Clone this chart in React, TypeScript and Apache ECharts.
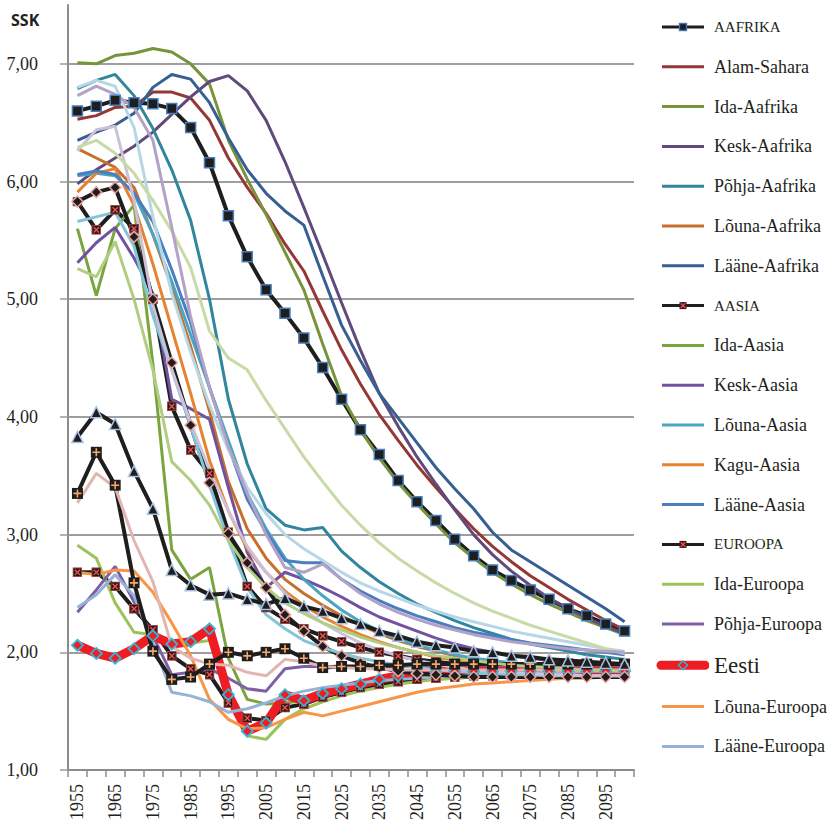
import React, { useEffect, useRef } from 'react';
import * as echarts from 'echarts';

// Five-year steps, 1955–2100
const years = [
  '1955', '1960', '1965', '1970', '1975', '1980', '1985', '1990', '1995', '2000',
  '2005', '2010', '2015', '2020', '2025', '2030', '2035', '2040', '2045', '2050',
  '2055', '2060', '2065', '2070', '2075', '2080', '2085', '2090', '2095', '2100',
];

// Total fertility rate (SSK) by region
const aafrika = [6.60, 6.64, 6.69, 6.67, 6.66, 6.62, 6.46, 6.16, 5.71, 5.36, 5.08, 4.88, 4.67, 4.42, 4.15, 3.89, 3.68, 3.46, 3.28, 3.12, 2.96, 2.82, 2.70, 2.61, 2.53, 2.45, 2.37, 2.31, 2.24, 2.18];
const alamSahara = [6.53, 6.56, 6.63, 6.64, 6.76, 6.76, 6.71, 6.52, 6.20, 5.95, 5.73, 5.47, 5.24, 4.90, 4.57, 4.28, 4.02, 3.80, 3.59, 3.40, 3.22, 3.05, 2.90, 2.77, 2.65, 2.55, 2.45, 2.36, 2.27, 2.19];
const idaAafrika = [7.01, 7.00, 7.07, 7.09, 7.13, 7.10, 7.00, 6.83, 6.35, 6.02, 5.72, 5.40, 5.08, 4.62, 4.18, 3.89, 3.65, 3.44, 3.26, 3.09, 2.93, 2.80, 2.68, 2.58, 2.49, 2.41, 2.34, 2.27, 2.21, 2.15];
const keskAafrika = [5.98, 6.10, 6.20, 6.30, 6.42, 6.57, 6.72, 6.85, 6.90, 6.77, 6.52, 6.17, 5.78, 5.38, 4.97, 4.57, 4.20, 3.92, 3.66, 3.43, 3.21, 3.00, 2.83, 2.69, 2.57, 2.46, 2.37, 2.29, 2.22, 2.16];
const pohjaAafrika = [6.79, 6.86, 6.91, 6.73, 6.45, 6.10, 5.67, 5.00, 4.15, 3.60, 3.22, 3.08, 3.04, 3.06, 2.86, 2.72, 2.60, 2.50, 2.41, 2.34, 2.27, 2.21, 2.16, 2.11, 2.07, 2.04, 2.01, 1.98, 1.96, 1.94];
const lounaAafrika = [6.28, 6.20, 6.12, 5.95, 5.55, 5.10, 4.60, 4.05, 3.45, 3.05, 2.80, 2.62, 2.50, 2.40, 2.31, 2.23, 2.16, 2.10, 2.05, 2.01, 1.97, 1.94, 1.92, 1.90, 1.88, 1.87, 1.86, 1.85, 1.84, 1.84];
const laaneAafrika = [6.35, 6.42, 6.48, 6.58, 6.80, 6.91, 6.87, 6.67, 6.37, 6.10, 5.90, 5.75, 5.63, 5.20, 4.78, 4.48, 4.20, 3.99, 3.78, 3.57, 3.39, 3.22, 3.02, 2.87, 2.77, 2.67, 2.57, 2.47, 2.37, 2.26];

const aasia = [5.83, 5.59, 5.76, 5.60, 5.00, 4.09, 3.72, 3.52, 3.02, 2.56, 2.38, 2.28, 2.20, 2.14, 2.09, 2.04, 2.00, 1.97, 1.94, 1.92, 1.90, 1.88, 1.87, 1.86, 1.85, 1.84, 1.83, 1.83, 1.82, 1.82];
const idaAasia = [5.60, 5.03, 5.60, 5.80, 4.45, 2.87, 2.62, 2.72, 1.95, 1.60, 1.56, 1.57, 1.59, 1.62, 1.66, 1.69, 1.72, 1.74, 1.76, 1.77, 1.78, 1.79, 1.80, 1.80, 1.81, 1.81, 1.81, 1.82, 1.82, 1.82];
const keskAasia = [5.31, 5.48, 5.61, 5.35, 5.05, 4.15, 4.07, 3.98, 3.40, 2.85, 2.55, 2.68, 2.62, 2.55, 2.47, 2.38, 2.30, 2.24, 2.18, 2.12, 2.07, 2.03, 2.00, 1.97, 1.95, 1.93, 1.91, 1.90, 1.89, 1.88];
const lounaAasia = [6.05, 6.07, 6.05, 5.90, 5.55, 5.15, 4.70, 4.25, 3.80, 3.35, 3.05, 2.80, 2.62, 2.48, 2.36, 2.26, 2.18, 2.11, 2.06, 2.02, 1.98, 1.95, 1.93, 1.91, 1.89, 1.88, 1.87, 1.86, 1.85, 1.85];
const kaguAasia = [5.91, 6.07, 6.11, 5.80, 5.30, 4.75, 4.20, 3.63, 3.20, 2.88, 2.68, 2.52, 2.40, 2.30, 2.22, 2.15, 2.09, 2.04, 2.00, 1.96, 1.93, 1.91, 1.89, 1.87, 1.86, 1.85, 1.84, 1.83, 1.83, 1.82];
const laaneAasia = [6.06, 6.09, 6.06, 5.90, 5.66, 5.25, 4.80, 4.25, 3.75, 3.30, 3.02, 2.78, 2.76, 2.76, 2.62, 2.52, 2.44, 2.37, 2.31, 2.26, 2.21, 2.17, 2.14, 2.11, 2.08, 2.06, 2.04, 2.02, 2.00, 1.98];

const euroopa = [2.68, 2.68, 2.56, 2.37, 2.19, 1.97, 1.86, 1.81, 1.57, 1.44, 1.42, 1.53, 1.56, 1.62, 1.66, 1.70, 1.73, 1.75, 1.77, 1.78, 1.79, 1.80, 1.80, 1.81, 1.81, 1.82, 1.82, 1.82, 1.83, 1.83];
const idaEuroopa = [2.91, 2.80, 2.42, 2.17, 2.15, 2.08, 2.08, 2.10, 1.65, 1.29, 1.26, 1.43, 1.52, 1.58, 1.63, 1.67, 1.70, 1.73, 1.75, 1.77, 1.78, 1.79, 1.80, 1.81, 1.81, 1.82, 1.82, 1.83, 1.83, 1.83];
const pohjaEuroopa = [2.34, 2.53, 2.73, 2.43, 2.14, 1.81, 1.83, 1.86, 1.78, 1.69, 1.67, 1.86, 1.88, 1.88, 1.88, 1.88, 1.88, 1.88, 1.88, 1.88, 1.88, 1.88, 1.88, 1.88, 1.88, 1.88, 1.88, 1.88, 1.88, 1.88];
const eesti = [2.06, 1.99, 1.95, 2.03, 2.14, 2.07, 2.09, 2.20, 1.64, 1.33, 1.40, 1.64, 1.59, 1.65, 1.69, 1.73, 1.77, 1.80, 1.82, 1.83, 1.84, 1.84, 1.84, 1.84, 1.84, 1.84, 1.84, 1.84, 1.84, 1.84];
const lounaEuroopa = [2.68, 2.66, 2.70, 2.69, 2.51, 2.25, 1.97, 1.60, 1.43, 1.35, 1.36, 1.43, 1.49, 1.46, 1.50, 1.54, 1.58, 1.62, 1.66, 1.69, 1.71, 1.73, 1.74, 1.75, 1.76, 1.77, 1.78, 1.78, 1.79, 1.79];
const laaneEuroopa = [2.38, 2.49, 2.66, 2.48, 2.08, 1.66, 1.63, 1.58, 1.49, 1.52, 1.57, 1.63, 1.67, 1.70, 1.72, 1.74, 1.76, 1.77, 1.78, 1.79, 1.80, 1.81, 1.81, 1.82, 1.82, 1.83, 1.83, 1.84, 1.84, 1.84];

const ladinaAmeerika = [5.83, 5.91, 5.95, 5.53, 5.00, 4.46, 3.93, 3.44, 3.01, 2.76, 2.55, 2.32, 2.18, 2.05, 1.97, 1.91, 1.87, 1.84, 1.82, 1.81, 1.80, 1.79, 1.79, 1.79, 1.79, 1.79, 1.79, 1.79, 1.79, 1.79];
const kariibi = [5.66, 5.70, 5.74, 5.45, 4.86, 4.40, 3.92, 3.42, 2.95, 2.55, 2.32, 2.20, 2.10, 2.04, 1.99, 1.95, 1.92, 1.89, 1.87, 1.85, 1.84, 1.83, 1.82, 1.81, 1.81, 1.80, 1.80, 1.80, 1.80, 1.80];
const keskAmeerika = [6.80, 6.86, 6.81, 6.46, 5.70, 5.05, 4.55, 4.10, 3.72, 3.40, 3.18, 3.00, 2.88, 2.78, 2.68, 2.59, 2.52, 2.46, 2.40, 2.35, 2.30, 2.26, 2.22, 2.18, 2.15, 2.12, 2.09, 2.06, 2.03, 2.01];
const lounaAmeerika = [6.26, 6.44, 6.47, 5.84, 4.95, 4.40, 3.95, 3.55, 3.20, 2.90, 2.68, 2.50, 2.36, 2.25, 2.16, 2.08, 2.02, 1.97, 1.93, 1.90, 1.87, 1.85, 1.84, 1.83, 1.82, 1.81, 1.81, 1.80, 1.80, 1.80];
const pohjaAmeerika = [3.35, 3.70, 3.42, 2.59, 2.01, 1.77, 1.79, 1.90, 2.00, 1.97, 2.00, 2.03, 1.95, 1.87, 1.88, 1.88, 1.89, 1.89, 1.90, 1.90, 1.90, 1.90, 1.90, 1.90, 1.90, 1.90, 1.90, 1.90, 1.90, 1.90];
const okeaania = [3.83, 4.04, 3.94, 3.54, 3.22, 2.70, 2.57, 2.49, 2.50, 2.45, 2.41, 2.46, 2.39, 2.35, 2.29, 2.24, 2.18, 2.14, 2.09, 2.06, 2.04, 2.01, 2.00, 1.97, 1.96, 1.94, 1.93, 1.92, 1.91, 1.90];
const austraaliaUusMeremaa = [3.27, 3.52, 3.40, 2.95, 2.60, 2.05, 1.95, 1.90, 1.89, 1.83, 1.80, 1.94, 1.92, 1.88, 1.87, 1.86, 1.86, 1.85, 1.85, 1.85, 1.85, 1.85, 1.85, 1.85, 1.85, 1.85, 1.85, 1.85, 1.85, 1.85];
const melaneesia = [6.29, 6.35, 6.24, 6.07, 5.84, 5.58, 5.27, 4.73, 4.50, 4.40, 4.14, 3.90, 3.66, 3.45, 3.25, 3.08, 2.93, 2.80, 2.69, 2.59, 2.50, 2.42, 2.35, 2.29, 2.23, 2.18, 2.13, 2.08, 2.03, 1.99];
const mikroneesia = [5.26, 5.19, 5.49, 5.00, 4.40, 3.62, 3.46, 3.25, 2.95, 2.72, 2.55, 2.42, 2.33, 2.25, 2.19, 2.13, 2.08, 2.04, 2.00, 1.97, 1.95, 1.93, 1.91, 1.89, 1.88, 1.87, 1.86, 1.85, 1.85, 1.84];
const polyneesia = [6.73, 6.81, 6.74, 6.63, 6.35, 5.61, 4.85, 4.25, 3.75, 3.35, 3.00, 2.72, 2.68, 2.75, 2.62, 2.50, 2.41, 2.34, 2.28, 2.23, 2.19, 2.15, 2.12, 2.09, 2.07, 2.05, 2.03, 2.02, 2.01, 2.00];

const SERIF = 'Liberation Serif';
const TEXT = '#231f20';
const BLACK = '#1e1e1e';

const svgUri = (w: number, h: number, body: string) =>
  'image://data:image/svg+xml;charset=utf-8,' +
  encodeURIComponent(
    `<svg xmlns="http://www.w3.org/2000/svg" width="${w}" height="${h}" viewBox="0 0 ${w} ${h}">${body}</svg>`
  );

// Marker glyphs
const crossSquare = svgUri(10, 10,
  `<rect x="0.6" y="0.6" width="8.8" height="8.8" fill="${BLACK}" stroke="#a94442" stroke-width="1.1"/>` +
  `<path d="M2.4 2.4 L7.6 7.6 M7.6 2.4 L2.4 7.6" stroke="#ff4a4a" stroke-width="1.4"/>`);
const plusSquare = svgUri(12, 12,
  `<rect x="0.5" y="0.5" width="11" height="11" fill="${BLACK}"/>` +
  `<path d="M6 2 V10 M2 6 H10" stroke="#f9a867" stroke-width="1.6"/>`);

// Legend glyphs (54 x 14 box, line runs from x=7 to x=49)
const legendLine = (color: string) =>
  svgUri(54, 14, `<line x1="7" y1="7" x2="49" y2="7" stroke="${color}" stroke-width="3"/>`);
const legendSquare = svgUri(54, 14,
  `<line x1="7" y1="7" x2="49" y2="7" stroke="${BLACK}" stroke-width="3"/>` +
  `<rect x="24.5" y="3.5" width="7" height="7" fill="${BLACK}" stroke="#3f74b5" stroke-width="1.4"/>`);
const legendCross = svgUri(54, 14,
  `<line x1="7" y1="7" x2="49" y2="7" stroke="${BLACK}" stroke-width="3"/>` +
  `<rect x="24.5" y="3.5" width="7" height="7" fill="#3a1c1c"/>` +
  `<path d="M25.8 4.8 L30.2 9.2 M30.2 4.8 L25.8 9.2" stroke="#ff4a4a" stroke-width="1.3"/>`);
const legendEesti = svgUri(54, 14,
  `<line x1="6" y1="7" x2="50" y2="7" stroke="#ee1d23" stroke-width="9" stroke-linecap="round"/>` +
  `<path d="M28 2.5 L32.5 7 L28 11.5 L23.5 7 Z" fill="#ee1d23" stroke="#35b5d8" stroke-width="1.4"/>`);

type Plain = { name: string; data: number[]; color: string };

const plain = (p: Plain) => ({
  name: p.name,
  type: 'line',
  data: p.data,
  symbol: 'none',
  lineStyle: { color: p.color, width: 3 },
  itemStyle: { color: p.color },
  emphasis: { disabled: true },
});

const marked = (name: string, data: number[], symbol: string, size: number, fill: string, border: string) => ({
  name,
  type: 'line',
  data,
  symbol,
  symbolSize: size,
  showAllSymbol: true,
  lineStyle: { color: BLACK, width: 4 },
  itemStyle: { color: fill, borderColor: border, borderWidth: 1.5 },
  emphasis: { disabled: true },
});

const buildOption = () => {
  const series: any[] = [
    marked('AAFRIKA', aafrika, 'rect', 10, BLACK, '#4a7ebb'),
    plain({ name: 'Alam-Sahara', data: alamSahara, color: '#953735' }),
    plain({ name: 'Ida-Aafrika', data: idaAafrika, color: '#77933c' }),
    plain({ name: 'Kesk-Aafrika', data: keskAafrika, color: '#604a7b' }),
    plain({ name: 'Põhja-Aafrika', data: pohjaAafrika, color: '#31859c' }),
    plain({ name: 'Lõuna-Aafrika', data: lounaAafrika, color: '#c76f2c' }),
    plain({ name: 'Lääne-Aafrika', data: laaneAafrika, color: '#376092' }),
    marked('AASIA', aasia, crossSquare, 10, BLACK, BLACK),
    plain({ name: 'Ida-Aasia', data: idaAasia, color: '#7aa53e' }),
    plain({ name: 'Kesk-Aasia', data: keskAasia, color: '#7052a0' }),
    plain({ name: 'Lõuna-Aasia', data: lounaAasia, color: '#4aa6c0' }),
    plain({ name: 'Kagu-Aasia', data: kaguAasia, color: '#e5832f' }),
    plain({ name: 'Lääne-Aasia', data: laaneAasia, color: '#4a7ec0' }),
    marked('EUROOPA', euroopa, crossSquare, 10, BLACK, BLACK),
    plain({ name: 'Ida-Euroopa', data: idaEuroopa, color: '#9bc35a' }),
    plain({ name: 'Põhja-Euroopa', data: pohjaEuroopa, color: '#7c5fa6' }),
    {
      name: 'Eesti',
      type: 'line',
      data: eesti,
      symbol: 'diamond',
      symbolSize: 11,
      showAllSymbol: true,
      lineStyle: { color: '#ee1d23', width: 9 },
      itemStyle: { color: '#ee1d23', borderColor: '#35b5d8', borderWidth: 1.8 },
      emphasis: { disabled: true },
    },
    plain({ name: 'Lõuna-Euroopa', data: lounaEuroopa, color: '#f79646' }),
    plain({ name: 'Lääne-Euroopa', data: laaneEuroopa, color: '#95b3d7' }),
    marked('LADINA-AMEERIKA', ladinaAmeerika, 'diamond', 11, BLACK, '#e8a3a1'),
    plain({ name: 'Kariibi', data: kariibi, color: '#82c5d8' }),
    plain({ name: 'Kesk-Ameerika', data: keskAmeerika, color: '#b6d8e6' }),
    plain({ name: 'Lõuna-Ameerika', data: lounaAmeerika, color: '#ccc1da' }),
    marked('PÕHJA-AMEERIKA', pohjaAmeerika, plusSquare, 12, BLACK, BLACK),
    marked('OKEAANIA', okeaania, 'triangle', 11, BLACK, '#a9c1e0'),
    plain({ name: 'Austraalia/Uus-Meremaa', data: austraaliaUusMeremaa, color: '#e1b5b1' }),
    plain({ name: 'Melaneesia', data: melaneesia, color: '#c8dba6' }),
    plain({ name: 'Mikroneesia', data: mikroneesia, color: '#b1cd82' }),
    plain({ name: 'Polüneesia', data: polyneesia, color: '#b3a2c7' }),
  ];

  const colorOf = (name: string) => series.find((s) => s.name === name).lineStyle.color;
  const caps = { fontFamily: SERIF, fontSize: 15, lineHeight: 20 };
  const normal = { fontFamily: SERIF, fontSize: 18, lineHeight: 20 };

  const legendItem = (name: string) => {
    if (name === 'AAFRIKA') return { name, icon: legendSquare, textStyle: caps };
    if (name === 'AASIA' || name === 'EUROOPA') return { name, icon: legendCross, textStyle: caps };
    if (name === 'Eesti') return { name, icon: legendEesti, textStyle: { fontFamily: SERIF, fontSize: 23, lineHeight: 20 } };
    return { name, icon: legendLine(colorOf(name)), textStyle: normal };
  };

  const legendNames = [
    'AAFRIKA', 'Alam-Sahara', 'Ida-Aafrika', 'Kesk-Aafrika', 'Põhja-Aafrika', 'Lõuna-Aafrika', 'Lääne-Aafrika',
    'AASIA', 'Ida-Aasia', 'Kesk-Aasia', 'Lõuna-Aasia', 'Kagu-Aasia', 'Lääne-Aasia',
    'EUROOPA', 'Ida-Euroopa', 'Põhja-Euroopa', 'Eesti', 'Lõuna-Euroopa', 'Lääne-Euroopa',
  ];

  return {
    animation: false,
    backgroundColor: '#ffffff',
    textStyle: { fontFamily: SERIF },
    grid: { left: 68, right: 194, top: 5, bottom: 59 },
    legend: {
      orient: 'vertical',
      left: 650,
      top: 12,
      itemWidth: 54,
      itemHeight: 14,
      itemGap: 19.8,
      selectedMode: false,
      textStyle: { fontFamily: SERIF, color: TEXT, fontSize: 18, lineHeight: 20 },
      data: legendNames.map(legendItem),
    },
    graphic: [
      {
        type: 'text',
        left: 11,
        top: 12,
        style: { text: 'SSK', fontFamily: 'Open Sans', fontWeight: 'bold', fontSize: 16, fill: TEXT },
      },
    ],
    xAxis: {
      type: 'category',
      data: years,
      boundaryGap: true,
      axisLine: { lineStyle: { color: '#8c8c8c', width: 2 } },
      axisTick: { show: true, interval: 0, length: 7, lineStyle: { color: '#8c8c8c', width: 1.5 } },
      axisLabel: { interval: 1, rotate: 90, margin: 14, fontFamily: SERIF, fontSize: 18, color: TEXT },
      splitLine: { show: false },
    },
    yAxis: {
      type: 'value',
      min: 1,
      max: 7.5,
      interval: 1,
      axisLine: { show: true, lineStyle: { color: '#8c8c8c', width: 2 } },
      axisTick: { show: true, length: 8, lineStyle: { color: '#9a9a9a', width: 1.5 } },
      splitLine: { show: true, showMaxLine: false, showMinLine: false, lineStyle: { color: '#9e9e9e', width: 2 } },
      axisLabel: {
        showMaxLabel: false,
        margin: 30,
        fontFamily: SERIF,
        fontSize: 18,
        color: TEXT,
        formatter: (v: number) => v.toFixed(2).replace('.', ','),
      },
    },
    series,
  };
};

export default function App() {
  const ref = useRef<HTMLDivElement>(null);

  useEffect(() => {
    if (!ref.current) return;
    const chart = echarts.init(ref.current, undefined, { renderer: 'svg' });
    chart.setOption(buildOption() as any);
    return () => chart.dispose();
  }, []);

  return (
    <div
      ref={ref}
      style={{ position: 'fixed', left: 0, top: 0, width: 828, height: 829, background: '#fff' }}
    />
  );
}
